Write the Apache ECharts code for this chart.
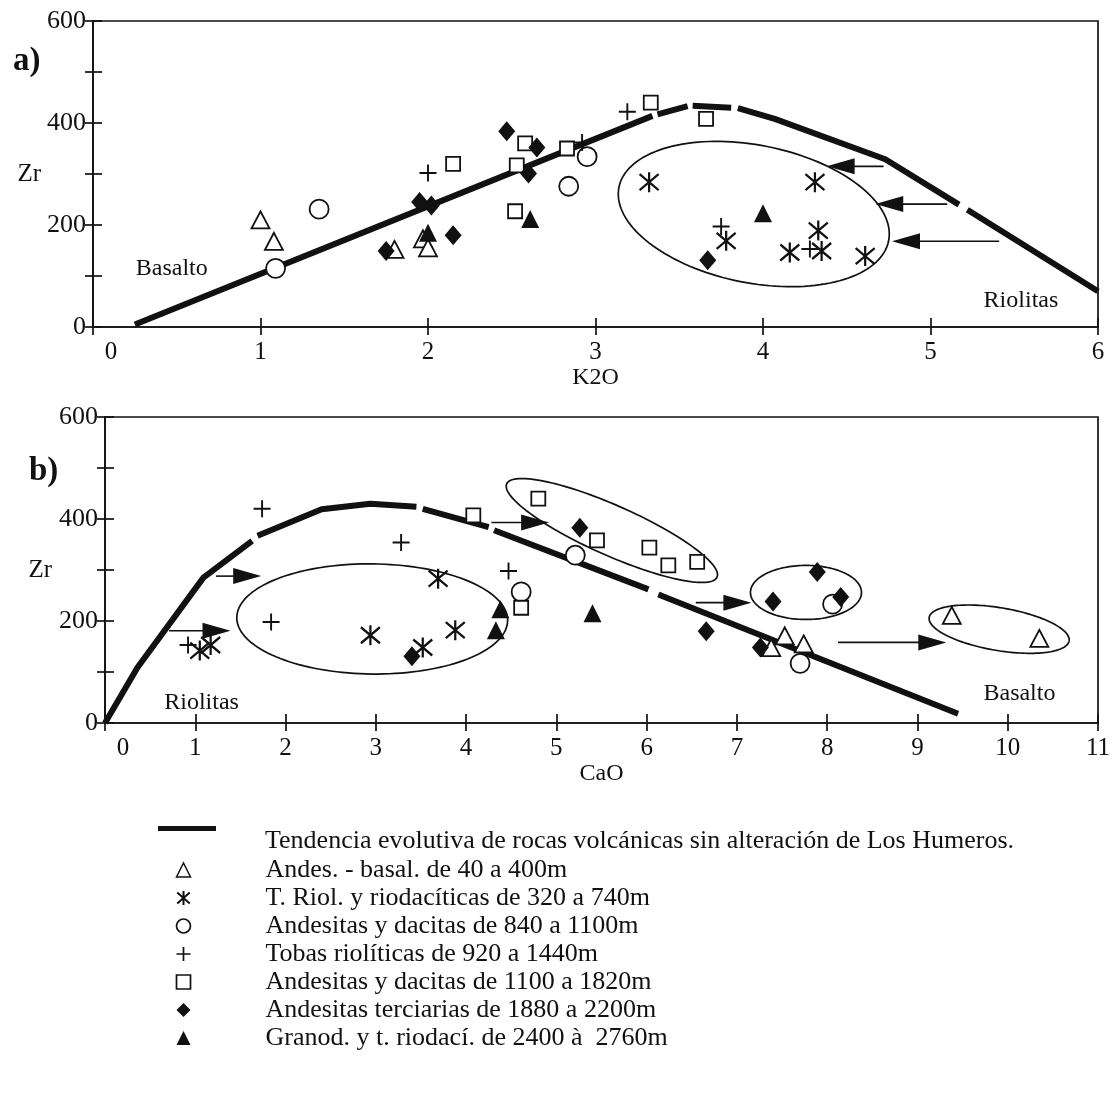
<!DOCTYPE html>
<html><head><meta charset="utf-8">
<script src="https://cdn.jsdelivr.net/npm/echarts@6/dist/echarts.min.js"></script>
<style>html,body{margin:0;padding:0;background:#fff}#c{width:1119px;height:1096px}</style>
</head><body><div id="c"></div>
<script>
// ---------- names ----------
const NAME_TREND = 'Tendencia evolutiva de rocas volcánicas sin alteración de Los Humeros.';
const NAMES = [
  'Andes. - basal. de 40 a 400m',
  'T. Riol. y riodacíticas de 320 a 740m',
  'Andesitas y dacitas de 840 a 1100m',
  'Tobas riolíticas de 920 a 1440m',
  'Andesitas y dacitas de 1100 a 1820m',
  'Andesitas terciarias de 1880 a 2200m',
  'Granod. y t. riodací. de 2400 à  2760m'
];
// ---------- axes ----------
const X_TICKS_A = [0, 6, 1];   // min, max, step (K2O)
const X_TICKS_B = [0, 11, 1];  // min, max, step (CaO)
const Y_TICKS = [0, 600, 100]; // Zr

// ---------- panel a (K2O vs Zr) ----------
const A_TRI_OPEN = [[1.0,210],[1.08,168],[1.80,152],[1.97,173],[2.0,155]];
const A_ASTER    = [[3.32,284],[4.31,284],[3.78,169],[4.33,189],[4.16,146],[4.35,149],[4.61,139]];
const A_CIRCLE   = [[1.35,231],[1.09,115],[2.95,334],[2.84,276]];
const A_PLUS     = [[2.0,302],[3.19,422],[3.75,197],[4.28,153],[2.92,362]];
const A_SQUARE   = [[2.15,320],[2.58,360],[2.53,317],[2.52,227],[2.83,350],[3.33,440],[3.66,408]];
const A_DIAMOND  = [[2.47,384],[2.65,352],[2.60,301],[1.95,245],[2.02,238],[2.15,180],[1.75,149],[3.67,131]];
const A_TRI_FILL = [[2.0,185],[2.61,212],[4.0,223]];
const A_TREND = [
  [[0.25,5],[3.34,414]],
  [[3.37,417],[3.55,433]],
  [[3.58,434],[3.81,430]],
  [[3.85,429],[4.07,408],[4.73,329],[5.17,240]],
  [[5.22,230],[6.0,70]]
];
const A_ELLIPSES = [[3.14,274,4.75,169,135]];           // x1,y1,x2,y2 (major axis ends), minor semi-axis (Zr)
const A_ARROWS   = [[4.72,315,4.38,315],[5.10,241,4.67,241],[5.41,168,4.77,168]]; // tail -> tip
const A_TEXTS    = [{name:'Basalto', value:[0.47,114]},{name:'Riolitas', value:[5.54,51]}];

// ---------- panel b (CaO vs Zr) ----------
const B_TRI_OPEN = [[7.38,148],[7.53,171],[7.74,155],[9.38,211],[10.35,166]];
const B_ASTER    = [[3.69,283],[2.94,172],[3.52,148],[3.88,182],[1.05,142],[1.17,153]];
const B_CIRCLE   = [[4.61,257],[5.21,329],[8.06,233],[7.70,117]];
const B_PLUS     = [[1.74,420],[3.28,354],[4.47,298],[1.84,198],[0.92,153]];
const B_SQUARE   = [[4.08,407],[4.80,440],[4.61,226],[5.45,358],[6.03,344],[6.24,309],[6.56,316]];
const B_DIAMOND  = [[5.26,383],[6.66,180],[7.40,238],[7.89,296],[8.15,247],[7.26,148],[3.40,131]];
const B_TRI_FILL = [[4.38,223],[4.33,182],[5.40,215]];
const B_TREND = [
  [[0,0],[0.36,109],[1.09,285],[1.63,357]],
  [[1.69,367],[2.40,419],[2.94,430],[3.45,424]],
  [[3.52,420],[4.25,384]],
  [[4.31,378],[6.02,262]],
  [[6.13,252],[9.45,18]]
];
const B_ELLIPSES = [[1.46,207,4.46,201,108],[4.45,469,6.78,286,49],[7.15,256,8.38,256,53],[9.13,207,10.68,161,42]];
const B_ARROWS   = [[1.23,288,1.73,288],[0.71,181,1.39,181],[4.28,393,4.92,393],[6.545,236,7.16,236],[8.12,158,9.32,158]];
const B_TEXTS    = [{name:'Riolitas', value:[1.07,40]},{name:'Basalto', value:[10.13,57]}];

// ---------- styles ----------
const INK = '#111';
const FONT = "'Liberation Serif', 'DejaVu Serif', serif";
const SYM = [
  {symbol:'triangle', size:[18,17], itemStyle:{color:'#fff', borderColor:INK, borderWidth:1.8, opacity:1}},
  {symbol:'path://M10,0L10,20M1,2L19,18M19,2L1,18', size:[19,20], itemStyle:{color:'none', borderColor:INK, borderWidth:2.3, opacity:1}},
  {symbol:'circle', size:19, itemStyle:{color:'#fff', borderColor:INK, borderWidth:1.8, opacity:1}},
  {symbol:'path://M0,8L16,8M8,0L8,16', size:17, itemStyle:{color:'none', borderColor:INK, borderWidth:1.9, opacity:1}},
  {symbol:'rect', size:14, itemStyle:{color:'#fff', borderColor:INK, borderWidth:1.8, opacity:1}},
  {symbol:'diamond', size:[17,20], itemStyle:{color:INK, borderWidth:0, opacity:1}},
  {symbol:'triangle', size:[18,18], itemStyle:{color:INK, borderWidth:0, opacity:1}}
];
const LEG_ICON = [
  {icon:'triangle', itemStyle:{color:'#fff', borderColor:INK, borderWidth:1.5}},
  {icon:'path://M10,0L10,20M1,2L19,18M19,2L1,18', itemStyle:{color:'none', borderColor:INK, borderWidth:2}},
  {icon:'circle', itemStyle:{color:'#fff', borderColor:INK, borderWidth:1.7}},
  {icon:'path://M0,8L16,8M8,0L8,16', itemStyle:{color:'none', borderColor:INK, borderWidth:1.7}},
  {icon:'rect', itemStyle:{color:'#fff', borderColor:INK, borderWidth:1.7}},
  {icon:'diamond', itemStyle:{color:INK, borderWidth:0}},
  {icon:'triangle', itemStyle:{color:INK, borderWidth:0}}
];

function renderEllipse(params, api) {
  const p1 = api.coord([api.value(0), api.value(1)]);
  const p2 = api.coord([api.value(2), api.value(3)]);
  const b = Math.abs(api.size([0, api.value(4)])[1]);
  const cx = (p1[0] + p2[0]) / 2, cy = (p1[1] + p2[1]) / 2;
  const dx = p2[0] - p1[0], dy = p2[1] - p1[1];
  const a = Math.hypot(dx, dy) / 2, th = Math.atan2(dy, dx);
  const pts = [];
  for (let i = 0; i < 144; i++) {
    const t = i / 144 * 2 * Math.PI;
    const ex = a * Math.cos(t), ey = b * Math.sin(t);
    pts.push([cx + ex * Math.cos(th) - ey * Math.sin(th), cy + ex * Math.sin(th) + ey * Math.cos(th)]);
  }
  return {type:'polygon', shape:{points:pts}, style:{fill:'none', stroke:INK, lineWidth:1.7}};
}
function renderArrow(params, api) {
  const p1 = api.coord([api.value(0), api.value(1)]);
  const p2 = api.coord([api.value(2), api.value(3)]);
  const dx = p2[0] - p1[0], dy = p2[1] - p1[1];
  const L = Math.hypot(dx, dy), ux = dx / L, uy = dy / L;
  const hl = 28, hw = 8;
  const bx = p2[0] - ux * hl, by = p2[1] - uy * hl;
  return {type:'group', children:[
    {type:'line', shape:{x1:p1[0], y1:p1[1], x2:bx + ux * 4, y2:by + uy * 4}, style:{stroke:INK, lineWidth:1.6}},
    {type:'polygon', shape:{points:[[p2[0], p2[1]], [bx - uy * hw, by + ux * hw], [bx + uy * hw, by - ux * hw]]}, style:{fill:INK}}
  ]};
}

function panelSeries(gi, groups, trend, ellipses, arrows, texts) {
  const out = [];
  trend.forEach(seg => out.push({
    type:'line', name:NAME_TREND, xAxisIndex:gi * 2, yAxisIndex:gi * 2, data:seg,
    symbol:'none', showSymbol:false, lineStyle:{color:INK, width:6, cap:'butt', opacity:1}, itemStyle:{color:INK},
    emphasis:{disabled:true}, silent:true, z:3
  }));
  out.push({type:'custom', name:'ell' + gi, xAxisIndex:gi * 2, yAxisIndex:gi * 2, data:ellipses,
    encode:{x:[0, 2], y:[1, 3]}, renderItem:renderEllipse, silent:true, z:2});
  out.push({type:'custom', name:'arr' + gi, xAxisIndex:gi * 2, yAxisIndex:gi * 2, data:arrows,
    encode:{x:[0, 2], y:[1, 3]}, renderItem:renderArrow, silent:true, z:2});
  groups.forEach((d, i) => out.push({
    type:'scatter', name:NAMES[i], xAxisIndex:gi * 2, yAxisIndex:gi * 2, data:d,
    symbol:SYM[i].symbol, symbolSize:SYM[i].size, itemStyle:SYM[i].itemStyle,
    emphasis:{disabled:true}, silent:true, z:4 + (i === 2 || i === 4 || i === 0 ? 0 : 1)
  }));
  out.push({type:'scatter', name:'txt' + gi, xAxisIndex:gi * 2, yAxisIndex:gi * 2, data:texts,
    symbolSize:0, silent:true, z:6, itemStyle:{opacity:1},
    label:{show:true, position:'inside', formatter:'{b}', fontFamily:FONT, fontSize:24, color:INK, opacity:1}});
  return out;
}

function xAxes(gi, ticks, name) {
  const base = {gridIndex:gi, type:'value', min:ticks[0], max:ticks[1], interval:ticks[2], splitLine:{show:false}};
  return [
    Object.assign({}, base, {
      position:'bottom',
      axisLine:{show:true, lineStyle:{color:INK, width:1.7}},
      axisTick:{show:true, inside:false, length:8, lineStyle:{color:INK, width:1.7}},
      axisLabel:{show:true, margin:13, fontFamily:FONT, fontSize:25, color:INK,
        formatter: v => v === 0 ? '{z|0}' : String(v),
        rich:{z:{padding:[0,0,0,36], fontFamily:FONT, fontSize:25, color:INK}}},
      name:name, nameLocation:'middle', nameGap:36,
      nameTextStyle:{fontFamily:FONT, fontSize:24, color:INK}
    }),
    Object.assign({}, base, {
      position:'bottom', axisLine:{show:false}, axisLabel:{show:false},
      axisTick:{show:true, inside:true, length:9, lineStyle:{color:INK, width:1.7}}
    })
  ];
}
function yAxes(gi, ticks, gap) {
  const base = {gridIndex:gi, type:'value', min:ticks[0], max:ticks[1], interval:ticks[2], splitLine:{show:false}};
  return [
    Object.assign({}, base, {
      position:'left',
      axisLine:{show:true, lineStyle:{color:INK, width:1.7}},
      axisTick:{show:true, inside:false, length:8, lineStyle:{color:INK, width:1.7}},
      axisLabel:{show:true, margin:7, fontFamily:FONT, fontSize:26, color:INK,
        formatter: v => (v % 200 === 0 ? String(v) : '')},
      name:'Zr', nameLocation:'middle', nameRotate:0, nameGap:gap,
      nameTextStyle:{fontFamily:FONT, fontSize:25, color:INK}
    }),
    Object.assign({}, base, {
      position:'left', axisLine:{show:false}, axisLabel:{show:false},
      axisTick:{show:true, inside:true, length:9, lineStyle:{color:INK, width:1.7}}
    })
  ];
}

const chart = echarts.init(document.getElementById('c'), null, {renderer:'canvas'});
chart.setOption({
  animation:false,
  backgroundColor:'#fff',
  title:[
    {text:'a)', left:8, top:40, textStyle:{fontFamily:FONT, fontSize:33, fontWeight:'bold', color:INK}},
    {text:'b)', left:24, top:450, textStyle:{fontFamily:FONT, fontSize:33, fontWeight:'bold', color:INK}}
  ],
  grid:[
    {left:93, top:21, width:1005, height:306, show:true, borderColor:INK, borderWidth:1.7, backgroundColor:'transparent'},
    {left:105, top:417, width:993, height:306, show:true, borderColor:INK, borderWidth:1.7, backgroundColor:'transparent'}
  ],
  xAxis:[].concat(xAxes(0, X_TICKS_A, 'K2O'), xAxes(1, X_TICKS_B, 'CaO')),
  yAxis:[].concat(yAxes(0, Y_TICKS, 46), yAxes(1, Y_TICKS, 53)),
  legend:[
    {data:[{name:NAME_TREND, icon:'path://M0,0L58,0L58,5L0,5Z M0,29.9L0.01,29.9L0.01,30L0,30Z', itemStyle:{color:INK, borderWidth:0}}],
      left:158, top:826, padding:0, itemWidth:58, itemHeight:30, selectedMode:false,
      textStyle:{fontFamily:FONT, fontSize:26, color:INK, padding:[0,0,0,44]}},
    {data:NAMES.map((n, i) => Object.assign({name:n}, LEG_ICON[i])),
      orient:'vertical', left:174, top:857, padding:0, itemWidth:14, itemHeight:14, itemGap:2, selectedMode:false,
      textStyle:{fontFamily:FONT, fontSize:26, color:INK, padding:[0,0,0,70]}}
  ],
  series:[].concat(
    panelSeries(0, [A_TRI_OPEN, A_ASTER, A_CIRCLE, A_PLUS, A_SQUARE, A_DIAMOND, A_TRI_FILL], A_TREND, A_ELLIPSES, A_ARROWS, A_TEXTS),
    panelSeries(1, [B_TRI_OPEN, B_ASTER, B_CIRCLE, B_PLUS, B_SQUARE, B_DIAMOND, B_TRI_FILL], B_TREND, B_ELLIPSES, B_ARROWS, B_TEXTS)
  )
});
</script>
</body></html>
